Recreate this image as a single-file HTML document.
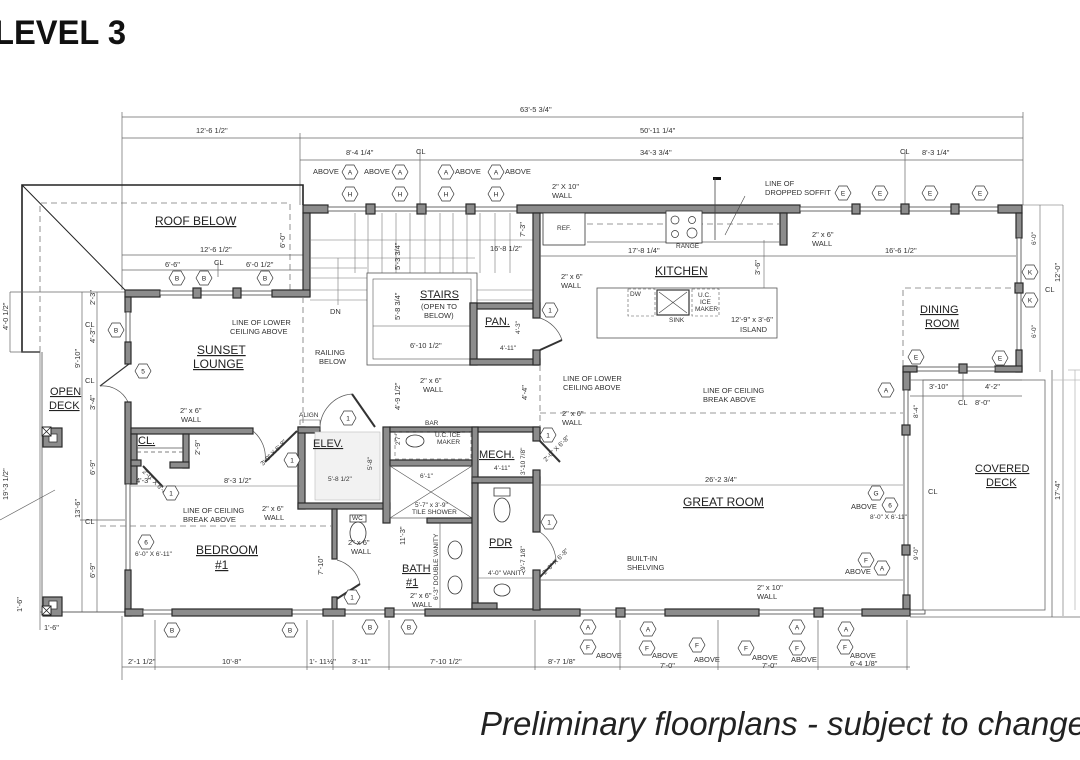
<!DOCTYPE html>
<html><head><meta charset="utf-8"><style>
html,body{margin:0;padding:0;background:#fff;}
svg{display:block;font-family:"Liberation Sans",sans-serif;}
.w{fill:#8c8c8c;stroke:#2a2a2a;stroke-width:1.2}
.t{fill:none;stroke:#555;stroke-width:0.8}
.d{fill:none;stroke:#666;stroke-width:0.7}
.ds{fill:none;stroke:#777;stroke-width:0.8;stroke-dasharray:6 4}
.win{fill:#fff;stroke:#444;stroke-width:0.8}
.s{font-size:6.5px;fill:#333}
.m{font-size:7.5px;fill:#333}
.r{font-size:12px;fill:#222;text-decoration:underline}
.hx{fill:#fff;stroke:#333;stroke-width:0.7}
.hl{font-size:6.5px;fill:#222;text-anchor:middle}
</style></head><body>
<svg width="1080" height="760" viewBox="0 0 1080 760" xmlns="http://www.w3.org/2000/svg">
<defs>
<path id="hex" d="M-8,0 L-4,-7 L4,-7 L8,0 L4,7 L-4,7Z"/>
</defs>
<rect width="1080" height="760" fill="#fff"/>
<text x="-6" y="44" font-size="34" font-weight="bold" fill="#111" textLength="132" lengthAdjust="spacingAndGlyphs">LEVEL 3</text>

<g class="d">
<line x1="122" y1="117" x2="1023" y2="117"/>
<line x1="122" y1="138" x2="1023" y2="138"/>
<line x1="300" y1="160" x2="1023" y2="160"/>
<line x1="122" y1="112" x2="122" y2="290"/>
<line x1="300" y1="133" x2="300" y2="205"/>
<line x1="1023" y1="112" x2="1023" y2="205"/>
<line x1="420" y1="150" x2="420" y2="205"/>
<line x1="905" y1="150" x2="905" y2="205"/>
</g>
<text class="m" x="520" y="112">63'-5 3/4"</text>
<text class="m" x="196" y="133">12'-6 1/2"</text>
<text class="m" x="640" y="133">50'-11 1/4"</text>
<text class="m" x="346" y="155">8'-4 1/4"</text>
<text class="m" x="416" y="154">CL</text>
<text class="m" x="640" y="155">34'-3 3/4"</text>
<text class="m" x="900" y="154">CL</text>
<text class="m" x="922" y="155">8'-3 1/4"</text>

<polyline points="40,352 22,352 22,185 303,185 303,205" fill="none" stroke="#222" stroke-width="1.6"/>
<line x1="22" y1="185" x2="125" y2="290" stroke="#222" stroke-width="1"/>
<polyline class="ds" points="40,352 40,203 290,203 290,290"/>
<text x="155" y="225" font-size="12" fill="#222" text-decoration="underline">ROOF BELOW</text>
<g class="d"><line x1="122" y1="255" x2="303" y2="255"/><line x1="122" y1="270" x2="303" y2="270"/><line x1="218" y1="262" x2="218" y2="277"/></g>
<text class="m" x="200" y="252">12'-6 1/2"</text>
<text class="m" x="165" y="267">6'-6"</text>
<text class="m" x="214" y="265">CL</text>
<text class="m" x="246" y="267">6'-0 1/2"</text>
<text class="m" x="285" y="248" transform="rotate(-90 285 248)">6'-0"</text>

<g class="d">
<line x1="10" y1="292" x2="10" y2="352"/>
<line x1="82" y1="292" x2="82" y2="612"/>
<line x1="97" y1="292" x2="97" y2="612"/>
<line x1="40" y1="352" x2="40" y2="630"/>
<line x1="10" y1="292" x2="125" y2="292"/>
<line x1="10" y1="352" x2="40" y2="352"/>
<line x1="40" y1="612" x2="125" y2="612"/>
<line x1="80" y1="520" x2="125" y2="520"/>
<line x1="0" y1="520" x2="55" y2="490"/>
</g>
<text class="m" x="8" y="330" transform="rotate(-90 8 330)">4'-0 1/2"</text>
<text class="m" x="8" y="500" transform="rotate(-90 8 500)">19'-3 1/2"</text>
<text class="m" x="95" y="305" transform="rotate(-90 95 305)">2'-3"</text>
<text class="m" x="95" y="343" transform="rotate(-90 95 343)">4'-3"</text>
<text class="m" x="80" y="368" transform="rotate(-90 80 368)">9'-10"</text>
<text class="m" x="95" y="410" transform="rotate(-90 95 410)">3'-4"</text>
<text class="m" x="95" y="475" transform="rotate(-90 95 475)">6'-9"</text>
<text class="m" x="80" y="518" transform="rotate(-90 80 518)">13'-6"</text>
<text class="m" x="95" y="578" transform="rotate(-90 95 578)">6'-9"</text>
<text class="m" x="22" y="612" transform="rotate(-90 22 612)">1'-6"</text>
<text class="m" x="85" y="327">CL</text>
<text class="m" x="85" y="383">CL</text>
<text class="m" x="85" y="524">CL</text>
<text class="m" x="44" y="630">1'-6"</text>

<line x1="42" y1="352" x2="42" y2="612" stroke="#555" stroke-width="0.8"/>
<line x1="42" y1="612" x2="125" y2="612" stroke="#555" stroke-width="0.8"/>
<rect class="w" x="43" y="428" width="19" height="19"/><rect x="49" y="434" width="8" height="8" fill="#fff" stroke="#333" stroke-width="0.8"/>
<rect x="42" y="427" width="9" height="9" fill="#fff" stroke="#222"/><path d="M42,427 L51,436 M51,427 L42,436" stroke="#222" stroke-width="0.8"/>
<rect class="w" x="43" y="597" width="19" height="19"/><rect x="49" y="601" width="8" height="8" fill="#fff" stroke="#333" stroke-width="0.8"/>
<rect x="42" y="606" width="9" height="9" fill="#fff" stroke="#222"/><path d="M42,606 L51,615 M51,606 L42,615" stroke="#222" stroke-width="0.8"/>
<text x="50" y="395" font-size="11" fill="#222" text-decoration="underline">OPEN</text>
<text x="49" y="409" font-size="11" fill="#222" text-decoration="underline">DECK</text>

<rect class="w" x="303" y="205" width="25" height="8"/>
<rect class="win" x="328" y="207" width="189" height="4"/>
<rect class="w" x="366" y="204" width="9" height="10"/>
<rect class="w" x="417" y="204" width="9" height="10"/>
<rect class="w" x="466" y="204" width="9" height="10"/>
<rect class="w" x="517" y="205" width="283" height="8"/>
<rect class="win" x="800" y="207" width="200" height="4"/>
<rect class="w" x="852" y="204" width="8" height="10"/>
<rect class="w" x="901" y="204" width="8" height="10"/>
<rect class="w" x="951" y="204" width="8" height="10"/>
<rect class="w" x="998" y="205" width="24" height="8"/>
<rect class="w" x="1016" y="213" width="6" height="25"/>
<rect class="win" x="1017" y="238" width="4" height="117"/>
<rect class="w" x="1015" y="283" width="8" height="10"/>
<rect class="w" x="1016" y="350" width="6" height="22"/>
<rect class="w" x="995" y="366" width="27" height="6"/>
<rect class="win" x="915" y="367" width="80" height="4"/>
<rect class="w" x="959" y="364" width="8" height="9"/>
<rect class="w" x="903" y="366" width="14" height="6"/>
<rect class="w" x="903" y="372" width="7" height="18"/>
<rect class="win" x="904" y="390" width="4" height="207"/>
<rect class="w" x="902" y="425" width="8" height="10"/>
<rect class="w" x="902" y="545" width="8" height="10"/>
<rect class="w" x="903" y="595" width="7" height="14"/>
<rect class="w" x="303" y="213" width="7" height="83"/>
<rect class="w" x="125" y="290" width="35" height="7"/>
<rect class="win" x="160" y="291" width="112" height="4"/>
<rect class="w" x="193" y="288" width="8" height="10"/>
<rect class="w" x="233" y="288" width="8" height="10"/>
<rect class="w" x="272" y="290" width="38" height="7"/>
<rect class="w" x="125" y="297" width="6" height="15"/>
<rect class="win" x="126" y="312" width="4" height="30"/>
<rect class="w" x="125" y="342" width="6" height="22"/>
<path d="M129,364 L100,386" stroke="#333" stroke-width="1.2"/>
<path d="M100,386 A28,28 0 0 1 128,402" fill="none" stroke="#555" stroke-width="0.7"/>
<rect class="w" x="125" y="402" width="6" height="82"/>
<rect class="win" x="126" y="484" width="4" height="86"/>
<rect class="w" x="125" y="570" width="6" height="46"/>
<rect class="w" x="125" y="609" width="18" height="7"/>
<rect class="win" x="143" y="610" width="782" height="4"/>
<rect class="w" x="172" y="609" width="120" height="7"/>
<rect class="w" x="323" y="609" width="22" height="7"/>
<rect class="w" x="385" y="608" width="9" height="9"/>
<rect class="w" x="425" y="609" width="155" height="7"/>
<rect class="w" x="616" y="608" width="9" height="9"/>
<rect class="w" x="665" y="609" width="94" height="7"/>
<rect class="w" x="814" y="608" width="9" height="9"/>
<rect class="w" x="862" y="609" width="48" height="7"/>

<rect class="w" x="131" y="428" width="122" height="6"/>
<rect class="w" x="131" y="434" width="6" height="50"/>
<rect class="w" x="183" y="434" width="6" height="34"/>
<rect class="w" x="170" y="462" width="19" height="6"/>
<rect class="w" x="131" y="460" width="10" height="6"/>
<line x1="137" y1="448" x2="183" y2="448" stroke="#555" stroke-width="0.8"/>
<line x1="137" y1="452" x2="183" y2="452" stroke="#555" stroke-width="0.8" stroke-dasharray="4 3"/>
<text x="138" y="444" font-size="11" fill="#222" text-decoration="underline">CL.</text>
<path d="M143,466 L163,487" stroke="#333" stroke-width="2"/>
<text class="s" x="142" y="472" transform="rotate(45 142 472)">2'-0" X 6'-8"</text>
<path d="M253,431 A34,34 0 0 1 265,462" fill="none" stroke="#555" stroke-width="0.7"/>
<path d="M297,431 L265,462" stroke="#333" stroke-width="2"/>
<text class="s" x="263" y="466" transform="rotate(-45 263 466)">3'-0" X 6'-8"</text>
<rect class="w" x="298" y="427" width="7" height="82"/>
<rect class="w" x="298" y="427" width="22" height="6"/>
<rect class="w" x="298" y="503" width="92" height="6"/>
<rect class="w" x="383" y="427" width="7" height="96"/>
<rect x="315" y="432" width="65" height="68" fill="#f2f2f2" stroke="#bbb" stroke-width="0.6"/>
<text x="313" y="447" font-size="11" fill="#222" text-decoration="underline">ELEV.</text>
<text class="s" x="328" y="481">5'-8 1/2"</text>
<text class="s" x="372" y="470" transform="rotate(-90 372 470)">5'-8"</text>
<text class="s" x="299" y="417">ALIGN</text>
<path d="M300,425 v-5 h20 v5" fill="none" stroke="#555" stroke-width="0.6"/>
<path d="M320,430 A35,35 0 0 1 352,394" fill="none" stroke="#555" stroke-width="0.7"/>
<path d="M352,394 L375,427" stroke="#333" stroke-width="2"/>
<rect class="w" x="390" y="427" width="150" height="5"/>
<rect class="w" x="390" y="460" width="82" height="6"/>
<rect x="395" y="432" width="76" height="27" fill="none" stroke="#555" stroke-width="0.6" stroke-dasharray="4 3"/>
<ellipse cx="415" cy="441" rx="9" ry="6" fill="none" stroke="#333" stroke-width="0.8"/>
<text class="s" x="435" y="437">U.C. ICE</text><text class="s" x="437" y="444">MAKER</text>
<text class="s" x="425" y="425">BAR</text>
<text class="s" x="400" y="445" transform="rotate(-90 400 445)">2'7"</text>
<rect class="w" x="472" y="427" width="6" height="56"/>
<rect class="w" x="472" y="477" width="68" height="6"/>
<rect class="w" x="533" y="427" width="7" height="14"/>
<rect class="w" x="533" y="470" width="7" height="62"/>
<text x="479" y="458" font-size="11" fill="#222" text-decoration="underline">MECH.</text>
<text class="s" x="494" y="470">4'-11"</text>
<text class="s" x="525" y="475" transform="rotate(-90 525 475)">3'-10 7/8"</text>
<path d="M540,441 L560,462" stroke="#333" stroke-width="2"/>
<text class="s" x="546" y="462" transform="rotate(-45 546 462)">2'-0" X 6'-8"</text>
<rect x="390" y="466" width="82" height="52" fill="none" stroke="#555" stroke-width="0.7"/>
<path d="M390,466 L472,518 M472,466 L390,518" stroke="#555" stroke-width="0.6"/>
<text class="s" x="420" y="478">6'-1"</text>
<text class="s" x="415" y="507">5'-7" x 3'-9"</text>
<text class="s" x="412" y="514">TILE SHOWER</text>
<rect class="w" x="427" y="518" width="45" height="5"/>
<rect class="w" x="332" y="509" width="5" height="50"/>
<path d="M337,560 A32,32 0 0 1 360,584" fill="none" stroke="#555" stroke-width="0.7"/>
<path d="M360,584 L335,600" stroke="#333" stroke-width="2"/>
<rect class="w" x="332" y="597" width="5" height="12"/>
<path d="M350,515 h16 v7 h-16z" fill="#fff" stroke="#333" stroke-width="0.8"/>
<ellipse cx="358" cy="533" rx="8" ry="11" fill="#fff" stroke="#333" stroke-width="0.8"/>
<text class="s" x="352" y="520">WC</text>
<text class="m" x="348" y="545">2" x 6"</text><text class="m" x="351" y="554">WALL</text>
<text class="m" x="323" y="575" transform="rotate(-90 323 575)">7'-10"</text>
<text class="m" x="405" y="545" transform="rotate(-90 405 545)">11'-3"</text>
<line x1="440" y1="523" x2="440" y2="608" stroke="#555" stroke-width="0.6"/>
<ellipse cx="455" cy="550" rx="7" ry="9" fill="#fff" stroke="#333" stroke-width="0.8"/>
<ellipse cx="455" cy="585" rx="7" ry="9" fill="#fff" stroke="#333" stroke-width="0.8"/>
<text class="s" x="438" y="600" transform="rotate(-90 438 600)">6'-3" DOUBLE VANITY</text>
<text x="402" y="572" font-size="11" fill="#222" text-decoration="underline">BATH</text>
<text x="406" y="586" font-size="11" fill="#222" text-decoration="underline">#1</text>
<text class="m" x="410" y="598">2" x 6"</text><text class="m" x="412" y="607">WALL</text>
<rect class="w" x="472" y="483" width="6" height="126"/>
<rect class="w" x="472" y="603" width="25" height="6"/>
<rect class="w" x="533" y="570" width="7" height="40"/>
<path d="M540,532 A38,38 0 0 1 556,560" fill="none" stroke="#555" stroke-width="0.7"/>
<path d="M556,560 L540,577" stroke="#333" stroke-width="2"/>
<text class="s" x="545" y="575" transform="rotate(-45 545 575)">2'-6" X 6'-8"</text>
<path d="M494,488 h16 v8 h-16z" fill="#fff" stroke="#333" stroke-width="0.8"/>
<ellipse cx="502" cy="510" rx="8" ry="12" fill="#fff" stroke="#333" stroke-width="0.8"/>
<text x="489" y="546" font-size="11" fill="#222" text-decoration="underline">PDR</text>
<text class="s" x="525" y="570" transform="rotate(-90 525 570)">9'-7 1/8"</text>
<line x1="478" y1="578" x2="533" y2="578" stroke="#555" stroke-width="0.6"/>
<text class="s" x="488" y="575">4'-0" VANITY</text>
<ellipse cx="502" cy="590" rx="8" ry="6" fill="#fff" stroke="#333" stroke-width="0.8"/>

<g stroke="#777" stroke-width="0.6">
<line x1="355" y1="213" x2="355" y2="273"/><line x1="368" y1="213" x2="368" y2="273"/><line x1="382" y1="213" x2="382" y2="273"/><line x1="396" y1="213" x2="396" y2="273"/><line x1="410" y1="213" x2="410" y2="273"/><line x1="425" y1="213" x2="425" y2="273"/><line x1="440" y1="213" x2="440" y2="273"/><line x1="453" y1="213" x2="453" y2="273"/><line x1="467" y1="213" x2="467" y2="273"/><line x1="480" y1="213" x2="480" y2="273"/><line x1="495" y1="213" x2="495" y2="273"/><line x1="510" y1="213" x2="510" y2="273"/>
<line x1="310" y1="258" x2="475" y2="258"/><line x1="310" y1="268" x2="367" y2="268"/><line x1="310" y1="278" x2="367" y2="278"/><line x1="310" y1="290" x2="367" y2="290"/><line x1="310" y1="300" x2="367" y2="300"/>
<line x1="338" y1="258" x2="338" y2="305"/>
<line x1="310" y1="240" x2="533" y2="240"/>
<line x1="477" y1="290" x2="533" y2="290"/><line x1="477" y1="300" x2="533" y2="300"/>
</g>
<rect x="367" y="273" width="110" height="92" fill="none" stroke="#555" stroke-width="0.8"/>
<rect x="373" y="279" width="98" height="80" fill="none" stroke="#555" stroke-width="0.6"/>
<line x1="373" y1="326" x2="471" y2="326" stroke="#555" stroke-width="0.6"/>
<text x="420" y="298" font-size="11" fill="#222" text-decoration="underline">STAIRS</text>
<text class="m" x="421" y="309">(OPEN TO</text><text class="m" x="424" y="318">BELOW)</text>
<text class="m" x="410" y="348">6'-10 1/2"</text>
<text class="m" x="400" y="270" transform="rotate(-90 400 270)">5'-3 3/4"</text>
<text class="m" x="400" y="320" transform="rotate(-90 400 320)">5'-8 3/4"</text>
<text class="m" x="400" y="410" transform="rotate(-90 400 410)">4'-9 1/2"</text>
<text class="m" x="330" y="314">DN</text>
<text class="m" x="490" y="251">16'-8 1/2"</text>
<text class="m" x="525" y="237" transform="rotate(-90 525 237)">7'-3"</text>
<text class="m" x="315" y="355">RAILING</text><text class="m" x="319" y="364">BELOW</text>
<text class="m" x="232" y="325">LINE OF LOWER</text><text class="m" x="230" y="334">CEILING ABOVE</text>
<line class="ds" x1="303" y1="297" x2="303" y2="427"/>
<rect class="w" x="470" y="303" width="70" height="6"/>
<rect class="w" x="470" y="303" width="7" height="62"/>
<rect class="w" x="470" y="359" width="70" height="6"/>
<rect class="w" x="533" y="213" width="7" height="105"/>
<rect class="w" x="533" y="350" width="7" height="15"/>
<text x="485" y="325" font-size="11" fill="#222" text-decoration="underline">PAN.</text>
<text class="s" x="500" y="350">4'-11"</text>
<text class="s" x="520" y="334" transform="rotate(-90 520 334)">4'-3"</text>
<path d="M540,318 A35,35 0 0 1 562,340" fill="none" stroke="#555" stroke-width="0.7"/>
<path d="M562,340 L540,350" stroke="#333" stroke-width="2"/>
<text class="m" x="420" y="383">2" x 6"</text><text class="m" x="423" y="392">WALL</text>
<text class="m" x="527" y="400" transform="rotate(-90 527 400)">4'-4"</text>

<rect class="w" x="780" y="213" width="7" height="32"/>
<rect x="543" y="213" width="42" height="32" fill="#fff" stroke="#333" stroke-width="0.8"/>
<text class="s" x="557" y="230">REF.</text>
<line x1="587" y1="242" x2="780" y2="242" stroke="#666" stroke-width="0.7"/>
<line class="ds" x1="587" y1="224" x2="780" y2="224"/>
<rect x="666" y="211" width="36" height="32" fill="#fff" stroke="#333" stroke-width="0.8"/>
<circle cx="675" cy="220" r="4" fill="none" stroke="#333" stroke-width="0.7"/><circle cx="692" cy="220" r="3.5" fill="none" stroke="#333" stroke-width="0.7"/>
<circle cx="675" cy="234" r="3.5" fill="none" stroke="#333" stroke-width="0.7"/><circle cx="692" cy="233" r="5" fill="none" stroke="#333" stroke-width="0.7"/>
<text class="s" x="676" y="248">RANGE</text>
<rect x="713" y="177" width="8" height="3" fill="#111"/><line x1="715" y1="178" x2="715" y2="240" stroke="#444" stroke-width="0.8"/>
<line x1="540" y1="256" x2="787" y2="256" stroke="#666" stroke-width="0.7"/>
<line x1="787" y1="256" x2="1016" y2="256" stroke="#666" stroke-width="0.7"/>
<text class="m" x="628" y="253">17'-8 1/4"</text>
<text class="m" x="885" y="253">16'-6 1/2"</text>
<text x="655" y="275" font-size="12" fill="#222" text-decoration="underline">KITCHEN</text>
<rect x="597" y="288" width="180" height="50" fill="#fff" stroke="#555" stroke-width="0.8"/>
<rect x="628" y="289" width="27" height="27" fill="none" stroke="#555" stroke-width="0.6" stroke-dasharray="3 2"/>
<rect x="657" y="290" width="32" height="25" fill="none" stroke="#333" stroke-width="1.2"/>
<path d="M659,292 L687,313 M687,292 L659,313" stroke="#444" stroke-width="0.6"/>
<rect x="692" y="289" width="27" height="27" fill="none" stroke="#555" stroke-width="0.6" stroke-dasharray="3 2"/>
<text class="s" x="630" y="296">DW</text>
<text class="s" x="698" y="297">U.C.</text><text class="s" x="700" y="304">ICE</text><text class="s" x="695" y="311">MAKER</text>
<text class="s" x="669" y="322">SINK</text>
<text class="m" x="731" y="322">12'-9" x 3'-6"</text><text class="m" x="740" y="332">ISLAND</text>
<text class="m" x="760" y="275" transform="rotate(-90 760 275)">3'-6"</text>
<line x1="764" y1="240" x2="764" y2="288" stroke="#666" stroke-width="0.6"/>
<text class="m" x="765" y="186">LINE OF</text><text class="m" x="765" y="195">DROPPED SOFFIT</text>
<text class="m" x="552" y="189">2" X 10"</text><text class="m" x="552" y="198">WALL</text>
<text class="m" x="812" y="237">2" x 6"</text><text class="m" x="812" y="246">WALL</text>
<text class="m" x="561" y="279">2" x 6"</text><text class="m" x="561" y="288">WALL</text>
<path d="M745,196 L725,235" stroke="#444" stroke-width="0.6"/>

<polyline class="ds" points="903,366 903,288 1016,288"/>
<text x="920" y="313" font-size="11" fill="#222" text-decoration="underline">DINING</text>
<text x="925" y="327" font-size="11" fill="#222" text-decoration="underline">ROOM</text>
<text class="s" x="1036" y="245" transform="rotate(-90 1036 245)">6'-0"</text>
<text class="s" x="1036" y="338" transform="rotate(-90 1036 338)">6'-0"</text>
<text class="m" x="1060" y="282" transform="rotate(-90 1060 282)">12'-0"</text>
<text class="m" x="1045" y="292">CL</text>
<line x1="1040" y1="205" x2="1040" y2="372" stroke="#666" stroke-width="0.6"/>
<line x1="1063" y1="205" x2="1063" y2="616" stroke="#666" stroke-width="0.6"/>
<line x1="1022" y1="205" x2="1063" y2="205" stroke="#666" stroke-width="0.6"/>
<g class="d"><line x1="910" y1="380" x2="1022" y2="380"/><line x1="910" y1="396" x2="1022" y2="396"/><line x1="963" y1="373" x2="963" y2="400"/></g>
<text class="m" x="929" y="389">3'-10"</text><text class="m" x="985" y="389">4'-2"</text>
<text class="m" x="958" y="405">CL</text><text class="m" x="975" y="405">8'-0"</text>

<rect x="923" y="380" width="122" height="230" fill="none" stroke="#666" stroke-width="0.8"/>
<line x1="1052" y1="370" x2="1052" y2="617" stroke="#666" stroke-width="0.8"/>
<line x1="910" y1="617" x2="1080" y2="617" stroke="#666" stroke-width="0.8"/>
<line x1="1068" y1="370" x2="1080" y2="370" stroke="#bbb" stroke-width="0.8"/>
<line x1="1075" y1="370" x2="1075" y2="610" stroke="#bbb" stroke-width="0.8"/>
<line x1="1052" y1="380" x2="1080" y2="380" stroke="#bbb" stroke-width="0.8"/>
<text x="975" y="472" font-size="11" fill="#222" text-decoration="underline">COVERED</text>
<text x="986" y="486" font-size="11" fill="#222" text-decoration="underline">DECK</text>
<text class="m" x="1060" y="500" transform="rotate(-90 1060 500)">17'-4"</text>
<text class="m" x="928" y="494">CL</text>
<text class="s" x="918" y="418" transform="rotate(-90 918 418)">8'-4"</text>
<text class="s" x="918" y="560" transform="rotate(-90 918 560)">9'-0"</text>

<line class="ds" x1="540" y1="413" x2="903" y2="413"/>
<line class="ds" x1="540" y1="365" x2="540" y2="427"/>
<line x1="540" y1="485" x2="903" y2="485" stroke="#666" stroke-width="0.6"/>
<text class="m" x="705" y="482">26'-2 3/4"</text>
<text x="683" y="506" font-size="12" fill="#222" text-decoration="underline">GREAT ROOM</text>
<line x1="540" y1="580" x2="903" y2="580" stroke="#666" stroke-width="0.7"/>
<text class="m" x="627" y="561">BUILT-IN</text><text class="m" x="627" y="570">SHELVING</text>
<text class="m" x="563" y="381">LINE OF LOWER</text><text class="m" x="563" y="390">CEILING ABOVE</text>
<text class="m" x="703" y="393">LINE OF CEILING</text><text class="m" x="703" y="402">BREAK ABOVE</text>
<text class="m" x="562" y="416">2" x 6"</text><text class="m" x="562" y="425">WALL</text>
<text class="m" x="757" y="590">2" x 10"</text><text class="m" x="757" y="599">WALL</text>
<text class="m" x="851" y="509">ABOVE</text>
<text class="s" x="870" y="519">8'-0" X 6'-11"</text>
<text class="m" x="845" y="574">ABOVE</text>

<text x="197" y="354" font-size="12" fill="#222" text-decoration="underline">SUNSET</text>
<text x="193" y="368" font-size="12" fill="#222" text-decoration="underline">LOUNGE</text>
<text x="196" y="554" font-size="12" fill="#222" text-decoration="underline">BEDROOM</text>
<text x="215" y="569" font-size="12" fill="#222" text-decoration="underline">#1</text>
<text class="m" x="180" y="413">2" x 6"</text><text class="m" x="181" y="422">WALL</text>
<text class="m" x="262" y="511">2" x 6"</text><text class="m" x="264" y="520">WALL</text>
<text class="m" x="183" y="513">LINE OF CEILING</text><text class="m" x="183" y="522">BREAK ABOVE</text>
<text class="m" x="224" y="483">8'-3 1/2"</text>
<text class="m" x="136" y="483">4'-3"</text>
<text class="m" x="200" y="455" transform="rotate(-90 200 455)">2'-9"</text>
<text class="s" x="135" y="556">6'-0" X 6'-11"</text>
<line x1="131" y1="486" x2="300" y2="486" stroke="#666" stroke-width="0.6"/>
<line class="ds" x1="100" y1="526" x2="332" y2="526"/>

<g>
<g transform="translate(350,172)"><use href="#hex" class="hx"/><text class="hl" y="2.5">A</text></g>
<g transform="translate(400,172)"><use href="#hex" class="hx"/><text class="hl" y="2.5">A</text></g>
<g transform="translate(446,172)"><use href="#hex" class="hx"/><text class="hl" y="2.5">A</text></g>
<g transform="translate(496,172)"><use href="#hex" class="hx"/><text class="hl" y="2.5">A</text></g>
<g transform="translate(350,194)"><use href="#hex" class="hx"/><text class="hl" y="2.5">H</text></g>
<g transform="translate(400,194)"><use href="#hex" class="hx"/><text class="hl" y="2.5">H</text></g>
<g transform="translate(446,194)"><use href="#hex" class="hx"/><text class="hl" y="2.5">H</text></g>
<g transform="translate(496,194)"><use href="#hex" class="hx"/><text class="hl" y="2.5">H</text></g>
<g transform="translate(843,193)"><use href="#hex" class="hx"/><text class="hl" y="2.5">E</text></g>
<g transform="translate(880,193)"><use href="#hex" class="hx"/><text class="hl" y="2.5">E</text></g>
<g transform="translate(930,193)"><use href="#hex" class="hx"/><text class="hl" y="2.5">E</text></g>
<g transform="translate(980,193)"><use href="#hex" class="hx"/><text class="hl" y="2.5">E</text></g>
<g transform="translate(1030,272)"><use href="#hex" class="hx"/><text class="hl" y="2.5">K</text></g>
<g transform="translate(1030,300)"><use href="#hex" class="hx"/><text class="hl" y="2.5">K</text></g>
<g transform="translate(916,357)"><use href="#hex" class="hx"/><text class="hl" y="2.5">E</text></g>
<g transform="translate(1000,358)"><use href="#hex" class="hx"/><text class="hl" y="2.5">E</text></g>
<g transform="translate(886,390)"><use href="#hex" class="hx"/><text class="hl" y="2.5">A</text></g>
<g transform="translate(177,278)"><use href="#hex" class="hx"/><text class="hl" y="2.5">B</text></g>
<g transform="translate(204,278)"><use href="#hex" class="hx"/><text class="hl" y="2.5">B</text></g>
<g transform="translate(265,278)"><use href="#hex" class="hx"/><text class="hl" y="2.5">B</text></g>
<g transform="translate(116,330)"><use href="#hex" class="hx"/><text class="hl" y="2.5">B</text></g>
<g transform="translate(143,371)"><use href="#hex" class="hx"/><text class="hl" y="2.5">5</text></g>
<g transform="translate(171,493)"><use href="#hex" class="hx"/><text class="hl" y="2.5">1</text></g>
<g transform="translate(292,460)"><use href="#hex" class="hx"/><text class="hl" y="2.5">1</text></g>
<g transform="translate(348,418)"><use href="#hex" class="hx"/><text class="hl" y="2.5">1</text></g>
<g transform="translate(352,597)"><use href="#hex" class="hx"/><text class="hl" y="2.5">1</text></g>
<g transform="translate(550,310)"><use href="#hex" class="hx"/><text class="hl" y="2.5">1</text></g>
<g transform="translate(548,435)"><use href="#hex" class="hx"/><text class="hl" y="2.5">1</text></g>
<g transform="translate(549,522)"><use href="#hex" class="hx"/><text class="hl" y="2.5">1</text></g>
<g transform="translate(146,542)"><use href="#hex" class="hx"/><text class="hl" y="2.5">6</text></g>
<g transform="translate(876,493)"><use href="#hex" class="hx"/><text class="hl" y="2.5">G</text></g>
<g transform="translate(890,505)"><use href="#hex" class="hx"/><text class="hl" y="2.5">6</text></g>
<g transform="translate(866,560)"><use href="#hex" class="hx"/><text class="hl" y="2.5">F</text></g>
<g transform="translate(882,568)"><use href="#hex" class="hx"/><text class="hl" y="2.5">A</text></g>
<g transform="translate(172,630)"><use href="#hex" class="hx"/><text class="hl" y="2.5">B</text></g>
<g transform="translate(290,630)"><use href="#hex" class="hx"/><text class="hl" y="2.5">B</text></g>
<g transform="translate(370,627)"><use href="#hex" class="hx"/><text class="hl" y="2.5">B</text></g>
<g transform="translate(409,627)"><use href="#hex" class="hx"/><text class="hl" y="2.5">B</text></g>
<g transform="translate(588,627)"><use href="#hex" class="hx"/><text class="hl" y="2.5">A</text></g>
<g transform="translate(648,629)"><use href="#hex" class="hx"/><text class="hl" y="2.5">A</text></g>
<g transform="translate(797,627)"><use href="#hex" class="hx"/><text class="hl" y="2.5">A</text></g>
<g transform="translate(846,629)"><use href="#hex" class="hx"/><text class="hl" y="2.5">A</text></g>
<g transform="translate(588,647)"><use href="#hex" class="hx"/><text class="hl" y="2.5">F</text></g>
<g transform="translate(647,648)"><use href="#hex" class="hx"/><text class="hl" y="2.5">F</text></g>
<g transform="translate(697,645)"><use href="#hex" class="hx"/><text class="hl" y="2.5">F</text></g>
<g transform="translate(746,648)"><use href="#hex" class="hx"/><text class="hl" y="2.5">F</text></g>
<g transform="translate(797,648)"><use href="#hex" class="hx"/><text class="hl" y="2.5">F</text></g>
<g transform="translate(845,647)"><use href="#hex" class="hx"/><text class="hl" y="2.5">F</text></g>
</g>
<text class="m" x="313" y="174">ABOVE</text><text class="m" x="364" y="174">ABOVE</text>
<text class="m" x="455" y="174">ABOVE</text><text class="m" x="505" y="174">ABOVE</text>
<text class="m" x="596" y="658">ABOVE</text><text class="m" x="652" y="658">ABOVE</text>
<text class="m" x="694" y="662">ABOVE</text><text class="m" x="752" y="660">ABOVE</text>
<text class="m" x="791" y="662">ABOVE</text><text class="m" x="850" y="658">ABOVE</text>

<g class="d">
<line x1="122" y1="667" x2="910" y2="667"/>
<line x1="122" y1="616" x2="122" y2="680"/>
<line x1="155" y1="620" x2="155" y2="670"/>
<line x1="307" y1="620" x2="307" y2="670"/>
<line x1="333" y1="620" x2="333" y2="670"/>
<line x1="389" y1="620" x2="389" y2="670"/>
<line x1="535" y1="620" x2="535" y2="670"/>
<line x1="620" y1="620" x2="620" y2="670"/>
<line x1="718" y1="620" x2="718" y2="670"/>
<line x1="818" y1="620" x2="818" y2="670"/>
<line x1="907" y1="620" x2="907" y2="670"/>
</g>
<text class="m" x="128" y="664">2'-1 1/2"</text>
<text class="m" x="222" y="664">10'-8"</text>
<text class="m" x="309" y="664">1'- 11½"</text>
<text class="m" x="352" y="664">3'-11"</text>
<text class="m" x="430" y="664">7'-10 1/2"</text>
<text class="m" x="548" y="664">8'-7 1/8"</text>
<text class="m" x="660" y="668">7'-0"</text>
<text class="m" x="762" y="668">7'-0"</text>
<text class="m" x="850" y="666">6'-4 1/8"</text>

<text x="480" y="735" font-size="33" font-style="italic" fill="#222" textLength="606" lengthAdjust="spacingAndGlyphs">Preliminary floorplans - subject to change</text>
</svg>
</body></html>
